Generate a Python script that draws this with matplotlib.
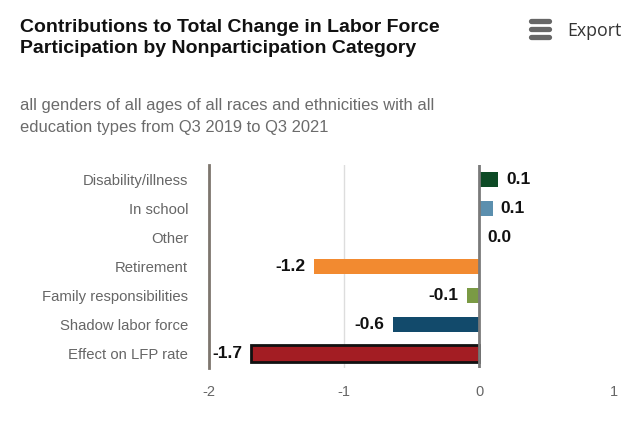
import numpy as np
import matplotlib.pyplot as plt
from matplotlib.lines import Line2D

plt.rcParams['font.family'] = ['Liberation Sans', 'DejaVu Sans']

# Data
categories = ['Disability/illness', 'In school', 'Other', 'Retirement',
              'Family responsibilities', 'Shadow labor force', 'Effect on LFP rate']
values = [0.14, 0.10, 0.0, -1.22, -0.09, -0.64, -1.69]
labels = ['0.1', '0.1', '0.0', '-1.2', '-0.1', '-0.6', '-1.7']
colors = ['#0d4a25', '#5b8fae', '#888888', '#f28a30', '#7a9a44', '#124a6b', '#a31d23']
xticks = [-2, -1, 0, 1]

fig = plt.figure(figsize=(6.4, 4.42), dpi=100)
ax = fig.add_axes([209 / 640, 1 - 368 / 442, 405 / 640, 203 / 442])

y = np.arange(len(categories))
for i, (v, c) in enumerate(zip(values, colors)):
    last = i == len(categories) - 1
    ax.barh(y[i], v, height=0.52 if not last else 0.58, color=c,
            edgecolor='#111111' if last else 'none', linewidth=2 if last else 0,
            zorder=3)
    if v >= 0:
        ax.annotate(labels[i], (v, y[i]), xytext=(6, 0), textcoords='offset points',
                    ha='left', va='center', fontsize=12.5, fontweight='bold', color='#111111')
    else:
        ax.annotate(labels[i], (v, y[i]), xytext=(-6, 0), textcoords='offset points',
                    ha='right', va='center', fontsize=12.5, fontweight='bold', color='#111111')

ax.set_xlim(-2, 1)
ax.set_ylim(len(categories) - 0.5, -0.5)
ax.set_yticks(y)
ax.set_yticklabels(categories, fontsize=10.7, color='#666666')
ax.set_xticks(xticks)
ax.set_xticklabels([str(t) for t in xticks], fontsize=10.5, color='#666666')
ax.tick_params(axis='both', length=0)
ax.tick_params(axis='y', pad=15)
ax.tick_params(axis='x', pad=12.5)

for s in ['top', 'right', 'bottom']:
    ax.spines[s].set_visible(False)
ax.spines['left'].set_color('#7d766e')
ax.spines['left'].set_linewidth(2)

ax.axvline(-1, color='#dddddd', linewidth=1, zorder=1)
ax.axvline(0, color='#7a7a7a', linewidth=2, zorder=4)

# Titles
fig.text(20 / 640, 1 - 19 / 442, 'Contributions to Total Change in Labor Force\nParticipation by Nonparticipation Category',
         ha='left', va='top', fontsize=14, fontweight='bold', color='#111111', linespacing=1.32)
fig.text(20 / 640, 1 - 98 / 442, 'all genders of all ages of all races and ethnicities with all\neducation types from Q3 2019 to Q3 2021',
         ha='left', va='top', fontsize=11.9, color='#6b6b6b', linespacing=1.55)

# Export menu
for yy in [21, 29, 37]:
    fig.add_artist(Line2D([531 / 640, 549 / 640], [1 - yy / 442] * 2, color='#666666',
                          linewidth=3.8, solid_capstyle='round'))
fig.text(567 / 640, 1 - 31 / 442, 'Export', ha='left', va='center', fontsize=12.8, color='#333333',
         family=['Open Sans', 'DejaVu Sans'])

fig.savefig('out.png', dpi=100)
